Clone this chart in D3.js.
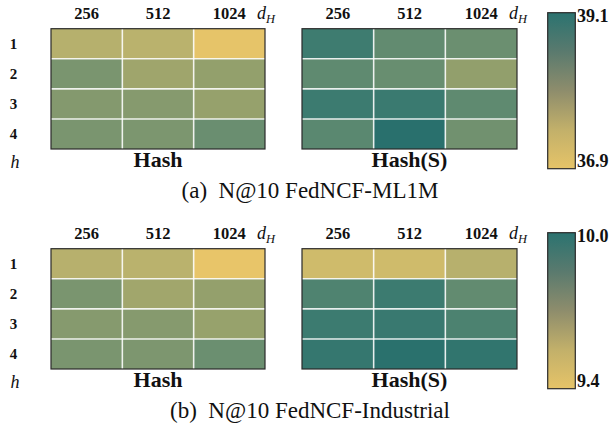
<!DOCTYPE html>
<html>
<head>
<meta charset="utf-8">
<script src="https://cdn.jsdelivr.net/npm/d3@7"></script>
<style>
  html, body { margin: 0; padding: 0; background: #fff; }
  svg { display: block; }
  text { font-family: "Liberation Serif", "Times New Roman", serif; fill: #111; }
</style>
</head>
<body>
<svg id="chart" width="614" height="430"></svg>
<script>
// ---- data ----
const dimLabels = ["256", "512", "1024"];     // d_H (columns)
const hLabels = ["1", "2", "3", "4"];           // h (rows)
const methods = ["Hash", "Hash(S)"];
const captions = ["(a)  N@10 FedNCF-ML1M", "(b)  N@10 FedNCF-Industrial"];

const ml1mRange = [36.9, 39.1];
const ml1mTicks = ["36.9", "39.1"];
const ml1mHash = [
  [37.50, 37.45, 36.92],
  [38.22, 37.76, 37.90],
  [38.09, 38.07, 37.87],
  [38.22, 38.20, 38.42]
];
const ml1mHashS = [
  [38.86, 38.51, 38.40],
  [38.55, 38.44, 37.91],
  [38.88, 38.90, 38.55],
  [38.60, 39.08, 38.33]
];

const indRange = [9.4, 10.0];
const indTicks = ["9.4", "10.0"];
const indHash = [
  [9.56, 9.55, 9.40],
  [9.76, 9.63, 9.67],
  [9.72, 9.72, 9.66],
  [9.76, 9.75, 9.81]
];
const indHashS = [
  [9.48, 9.48, 9.56],
  [9.89, 9.94, 9.84],
  [9.94, 9.95, 9.90],
  [9.96, 9.99, 9.97]
];

// ---- colour maps ----
const cellStops = ["#e8c569", "#bab26d", "#94a06c", "#7a956f", "#5f8a70", "#3c7b70", "#276f6d"];
const cellStopPos = [0, 0.25, 0.45, 0.6, 0.75, 0.9, 1];
const barStops = ["#e6c468", "#c2b06a", "#8e8d6c", "#5a7a6e", "#2b7370"];

const svg = d3.select("#chart");
const defs = svg.append("defs");
const grad = defs.append("linearGradient").attr("id", "cbar")
  .attr("x1", 0).attr("y1", 1).attr("x2", 0).attr("y2", 0);
barStops.forEach((c, i) => grad.append("stop")
  .attr("offset", i / (barStops.length - 1)).attr("stop-color", c));

const panels = [
  { off: 0,   range: ml1mRange, ticks: ml1mTicks, data: [ml1mHash, ml1mHashS], cap: captions[0] },
  { off: 220, range: indRange,  ticks: indTicks,  data: [indHash, indHashS],   cap: captions[1] }
];

const heatX = [[51, 265], [302, 517]];

panels.forEach(p => {
  const g = svg.append("g").attr("transform", `translate(0,${p.off})`);
  const tScale = d3.scaleLinear().domain(p.range).range([0, 1]).clamp(true);
  const cInterp = d3.scaleLinear().domain(cellStopPos).range(cellStops).interpolate(d3.interpolateRgb);
  const color = v => cInterp(tScale(v));

  const y = d3.scaleBand().domain(hLabels).range([28.7, 149]);

  p.data.forEach((mat, mi) => {
    const x = d3.scaleBand().domain(dimLabels).range(heatX[mi]);
    const hg = g.append("g");
    const cells = [];
    mat.forEach((row, ri) => row.forEach((v, ci) => cells.push({ r: hLabels[ri], c: dimLabels[ci], v })));
    hg.selectAll("rect.cell").data(cells).join("rect")
      .attr("class", "cell")
      .attr("x", d => x(d.c)).attr("y", d => y(d.r))
      .attr("width", x.bandwidth()).attr("height", y.bandwidth())
      .attr("fill", d => color(d.v));
    // white grid lines
    dimLabels.slice(1).forEach(c => hg.append("line")
      .attr("x1", x(c)).attr("x2", x(c)).attr("y1", y.range()[0]).attr("y2", y.range()[1])
      .attr("stroke", "#fff").attr("stroke-opacity", 0.85).attr("stroke-width", 1.6));
    hLabels.slice(1).forEach(r => hg.append("line")
      .attr("x1", x.range()[0]).attr("x2", x.range()[1]).attr("y1", y(r)).attr("y2", y(r))
      .attr("stroke", "#fff").attr("stroke-opacity", 0.85).attr("stroke-width", 1.6));
    // frame
    hg.append("rect")
      .attr("x", x.range()[0]).attr("y", y.range()[0])
      .attr("width", x.range()[1] - x.range()[0]).attr("height", y.range()[1] - y.range()[0])
      .attr("fill", "none").attr("stroke", "#2a2a2a").attr("stroke-width", 1.2);
    // column labels
    hg.selectAll("text.col").data(dimLabels).join("text")
      .attr("class", "col")
      .attr("x", d => x(d) + x.bandwidth() / 2).attr("y", 19.3)
      .attr("text-anchor", "middle").attr("font-weight", "bold").attr("font-size", 16.5)
      .text(d => d);
    // d_H
    const dh = hg.append("text").attr("x", x.range()[1] - 8).attr("y", 19.3)
      .attr("font-size", 18).attr("font-style", "italic");
    dh.append("tspan").text("d");
    dh.append("tspan").attr("font-size", 12.5).attr("dy", 3.5).text("H");
    // method label
    hg.append("text")
      .attr("x", (x.range()[0] + x.range()[1]) / 2).attr("y", 166.7)
      .attr("text-anchor", "middle").attr("font-weight", "bold").attr("font-size", 22)
      .text(methods[mi]);
  });

  // row labels
  g.selectAll("text.row").data(hLabels).join("text")
    .attr("class", "row")
    .attr("x", 13.5).attr("y", d => y(d) + y.bandwidth() / 2 + 5)
    .attr("text-anchor", "middle").attr("font-weight", "bold").attr("font-size", 15)
    .text(d => d);
  g.append("text").attr("x", 10.5).attr("y", 167.5)
    .attr("font-style", "italic").attr("font-size", 18).text("h");

  // colour bar
  const cb = d3.scaleLinear().domain(p.range).range([168.7, 12.7]);
  g.append("rect").attr("x", 547.7).attr("y", cb(p.range[1]))
    .attr("width", 27.6).attr("height", cb(p.range[0]) - cb(p.range[1]))
    .attr("fill", "url(#cbar)").attr("stroke", "#2a2a2a").attr("stroke-width", 1.2);
  g.append("text").attr("x", 577).attr("y", cb(p.range[1]) + 9)
    .attr("font-weight", "bold").attr("font-size", 18).text(p.ticks[1]);
  g.append("text").attr("x", 577).attr("y", cb(p.range[0]) - 2)
    .attr("font-weight", "bold").attr("font-size", 18).text(p.ticks[0]);

  // caption
  g.append("text").attr("x", 310).attr("y", 197.5)
    .attr("text-anchor", "middle").attr("font-size", 23)
    .attr("xml:space", "preserve").style("white-space", "pre")
    .text(p.cap);
});
</script>
</body>
</html>
